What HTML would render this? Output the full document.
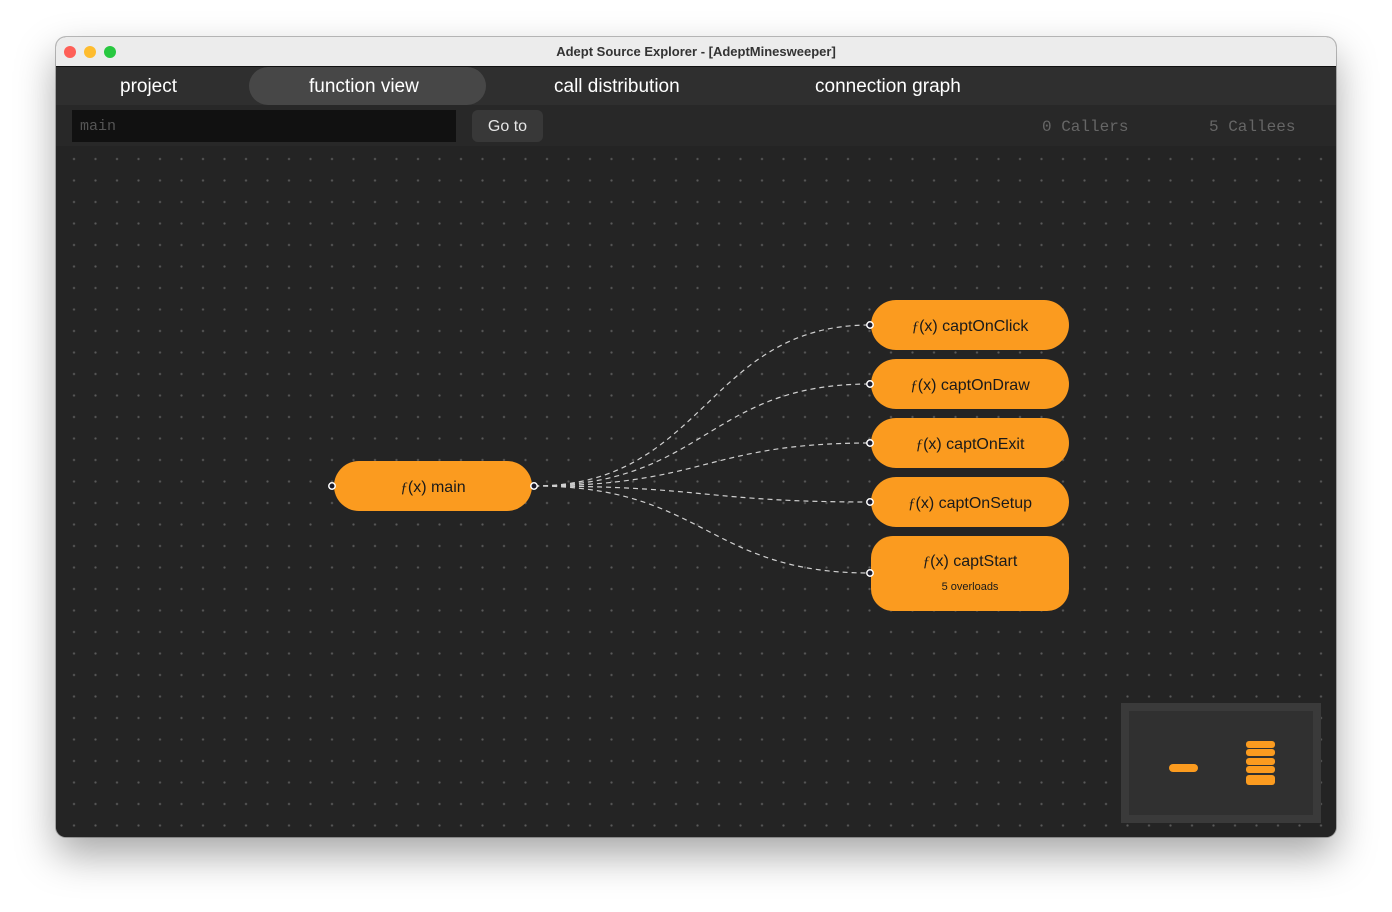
<!DOCTYPE html>
<html><head><style>
body{margin:0;width:1392px;height:912px;background:#fff;position:relative;overflow:hidden;font-family:"Liberation Sans",sans-serif}
.win{position:absolute;left:56px;top:37px;width:1280px;height:800px;border-radius:10px;overflow:hidden;background:#242424;box-shadow:0 18px 40px rgba(0,0,0,.35),0 0 0 1px rgba(0,0,0,.25)}
.title{position:absolute;left:0;top:0;width:1280px;height:29px;background:#ececec;border-bottom:1px solid #111;text-align:center;font:bold 13px/29px "Liberation Sans",sans-serif;color:#333}
.dot{position:absolute;top:9px;width:12px;height:12px;border-radius:50%}
.tabs{position:absolute;top:30px;left:0;width:1280px;height:38px;background:#2f2f2f}
.tab{position:absolute;top:1px;height:38px;line-height:38px;color:#fff;font-size:19px}
.tool{position:absolute;top:68px;left:0;width:1280px;height:41px;background:#282828}
.canvas{position:absolute;top:109px;left:0;width:1280px;height:691px;background-color:#242424;background-image:radial-gradient(circle,#5a5a5a 0.9px,transparent 1.3px);background-size:21.5px 21.5px;background-position:7.25px 2.25px}
.node{position:absolute;background:#fb9b1f;border-radius:25px;color:#1a1a1a;font-size:16px;text-align:center;width:198px}
.node i{font-family:"Liberation Serif",serif;font-style:italic;font-size:15px}
</style></head><body>
<div class="win">
 <div class="title">Adept Source Explorer - [AdeptMinesweeper]
  <div class="dot" style="left:8px;background:#fe5f57"></div>
  <div class="dot" style="left:28px;background:#febc2e"></div>
  <div class="dot" style="left:48px;background:#28c840"></div>
 </div>
 <div class="tabs">
  <div style="position:absolute;left:193px;top:0;width:237px;height:38px;border-radius:19px;background:#474747"></div>
  <div class="tab" style="left:64px">project</div>
  <div class="tab" style="left:253px">function view</div>
  <div class="tab" style="left:498px">call distribution</div>
  <div class="tab" style="left:759px">connection graph</div>
 </div>
 <div class="tool">
  <div style="position:absolute;left:16px;top:5px;width:384px;height:32px;background:#111;color:#555;font:15px/34px 'Liberation Mono',monospace;padding-left:8px;box-sizing:border-box">main</div>
  <div style="position:absolute;left:416px;top:5px;width:71px;height:32px;border-radius:6px;background:#383838;color:#e6e6e6;font-size:16px;line-height:34px;text-align:center">Go to</div>
  <div style="position:absolute;left:986px;top:5px;color:#666;font:16px/34px 'Liberation Mono',monospace">0 Callers</div>
  <div style="position:absolute;left:1153px;top:5px;color:#666;font:16px/34px 'Liberation Mono',monospace">5 Callees</div>
 </div>
 <div class="canvas"></div>
 <svg style="position:absolute;left:0;top:0" width="1280" height="800">
  <g fill="none" stroke="#cfcfcf" stroke-width="1.2" stroke-dasharray="5,4">
   <path d="M478 449 C650 449 650 288 814 288"/>
   <path d="M478 449 C650 449 650 347 814 347"/>
   <path d="M478 449 C650 449 650 406 814 406"/>
   <path d="M478 449 C650 449 650 465 814 465"/>
   <path d="M478 449 C650 449 650 536 814 536"/>
  </g>
 </svg>
 <div class="node" style="left:278px;top:424px;height:50px;line-height:53px"><i>ƒ</i>(x) main</div>
 <div class="node" style="left:815px;top:263px;height:50px;line-height:53px"><i>ƒ</i>(x) captOnClick</div>
 <div class="node" style="left:815px;top:322px;height:50px;line-height:53px"><i>ƒ</i>(x) captOnDraw</div>
 <div class="node" style="left:815px;top:381px;height:50px;line-height:53px"><i>ƒ</i>(x) captOnExit</div>
 <div class="node" style="left:815px;top:440px;height:50px;line-height:53px"><i>ƒ</i>(x) captOnSetup</div>
 <div class="node" style="left:815px;top:499px;height:75px;border-radius:22px"><div style="margin-top:17px"><i>ƒ</i>(x) captStart</div><div style="font-size:11px;margin-top:10px">5 overloads</div></div>
 <svg style="position:absolute;left:0;top:0" width="1280" height="800">
  <g fill="#1a1a2a" stroke="#fff" stroke-width="1.5">
   <circle cx="276" cy="449" r="3.2"/><circle cx="478" cy="449" r="3.2"/>
   <circle cx="814" cy="288" r="3.2"/><circle cx="814" cy="347" r="3.2"/><circle cx="814" cy="406" r="3.2"/><circle cx="814" cy="465" r="3.2"/><circle cx="814" cy="536" r="3.2"/>
  </g>
 </svg>
 <div style="position:absolute;left:1065px;top:666px;width:200px;height:120px;background:#3a3a3a">
  <div style="position:absolute;left:8px;top:8px;width:184px;height:104px;background:#303030"></div>
  <div style="position:absolute;left:48px;top:61px;width:29px;height:8px;border-radius:4px;background:#fb9b1f"></div>
  <div style="position:absolute;left:125px;top:38px;width:29px;height:7px;border-radius:3px;background:#fb9b1f"></div>
  <div style="position:absolute;left:125px;top:46px;width:29px;height:7px;border-radius:3px;background:#fb9b1f"></div>
  <div style="position:absolute;left:125px;top:55px;width:29px;height:7px;border-radius:3px;background:#fb9b1f"></div>
  <div style="position:absolute;left:125px;top:63px;width:29px;height:7px;border-radius:3px;background:#fb9b1f"></div>
  <div style="position:absolute;left:125px;top:72px;width:29px;height:10px;border-radius:3px;background:#fb9b1f"></div>
 </div>
</div>
</body></html>
